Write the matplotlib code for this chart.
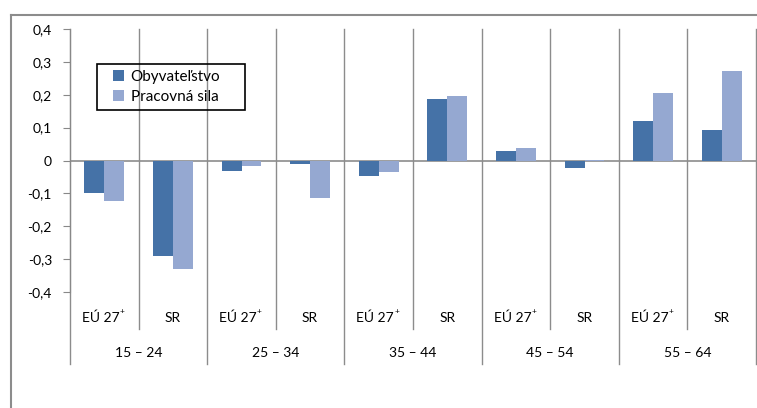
import numpy as np
import matplotlib
matplotlib.use("Agg")
import matplotlib.pyplot as plt
from matplotlib.ticker import FuncFormatter
from matplotlib.lines import Line2D
from matplotlib.patches import Rectangle

plt.rcParams["font.family"] = ["Lato", "DejaVu Sans"]

# údaje
groups = ["15 – 24", "25 – 34", "35 – 44", "45 – 54", "55 – 64"]
regions = ["EÚ 27", "SR"]
region_marks = ["+", ""]
obyvatelstvo = [-0.099, -0.29, -0.033, -0.011, -0.047, 0.188, 0.030, -0.024, 0.121, 0.094]
pracovna_sila = [-0.123, -0.33, -0.017, -0.114, -0.036, 0.197, 0.039, 0.003, 0.206, 0.273]
series_names = ["Obyvateľstvo", "Pracovná sila"]

W, H = 757, 408
fig = plt.figure(figsize=(W / 100, H / 100), dpi=100)
# plocha grafu v pixeloch
x0, x1, y_top, y_bot = 70, 756, 29, 292
ax = fig.add_axes([x0 / W, 1 - y_bot / H, (x1 - x0) / W, (y_bot - y_top) / H])

n = len(obyvatelstvo)
x = np.arange(n)
bw = 0.29
ax.bar(x - bw / 2, obyvatelstvo, bw, color="#4572A7", label=series_names[0], zorder=3)
ax.bar(x + bw / 2, pracovna_sila, bw, color="#95A8D1", label=series_names[1], zorder=3)

ax.set_xlim(-0.5, n - 0.5)
ax.set_ylim(-0.4, 0.4)
ax.set_yticks(np.arange(-0.4, 0.41, 0.1))
ax.yaxis.set_major_formatter(FuncFormatter(
    lambda v, p: "0" if abs(v) < 1e-9 else f"{v:.1f}".replace(".", ",")))
ax.tick_params(axis="y", length=5, color="#888888", labelsize=10, pad=8)
ax.set_xticks([])

for s in ["top", "right", "bottom"]:
    ax.spines[s].set_visible(False)
ax.spines["left"].set_color("#888888")

grid_c = "#8c8c8c"
ax.axhline(0, color=grid_c, lw=1.2, zorder=2)

# zvislé čiary kategórií (pokračujú pod osou)
trans = ax.get_xaxis_transform()
inner_bottom = (y_bot - 329) / (y_bot - y_top)
group_bottom = (y_bot - 364) / (y_bot - y_top)
for b in np.arange(-0.5, n, 1.0):
    is_group = int(round(b + 0.5)) % 2 == 0
    ax.plot([b, b], [1, group_bottom if is_group else inner_bottom],
            transform=trans, color=grid_c, lw=1, clip_on=False, zorder=1)

# popisy kategórií
lab_y = (y_bot - 318) / (y_bot - y_top)
grp_y = (y_bot - 353) / (y_bot - y_top)
for i in range(n):
    r = i % 2
    shift = -0.05 if region_marks[r] else 0
    t = ax.text(i + shift, lab_y, regions[r], transform=trans, ha="center",
                va="center", fontsize=10)
    if region_marks[r]:
        ax.annotate(region_marks[r], xy=(1, 1), xycoords=t, xytext=(0, 0.5),
                    textcoords="offset points", fontsize=6, ha="left",
                    va="center")
for g, name in enumerate(groups):
    ax.text(2 * g + 0.5, grp_y, name, transform=trans, ha="center", va="center",
            fontsize=10)

# legenda
leg = fig.legend(loc="upper left", bbox_to_anchor=(113 / W, 1 - 70 / H),
                 borderaxespad=0, borderpad=0, frameon=False, fontsize=11,
                 handlelength=0.7, handleheight=0.7, handletextpad=0.45,
                 labelspacing=0.4)
fig.add_artist(Rectangle((97 / W, 1 - 110 / H), 148 / W, 46 / H, fill=False,
                         edgecolor="black", lw=1.2))

# vonkajší rámček
fig.add_artist(Line2D([11 / W, 1], [1 - 15 / H, 1 - 15 / H], color="#8c8c8c", lw=1.5))
fig.add_artist(Line2D([11 / W, 11 / W], [1 - 15 / H, 0], color="#8c8c8c", lw=1.5))

fig.savefig("out.png", dpi=100)
